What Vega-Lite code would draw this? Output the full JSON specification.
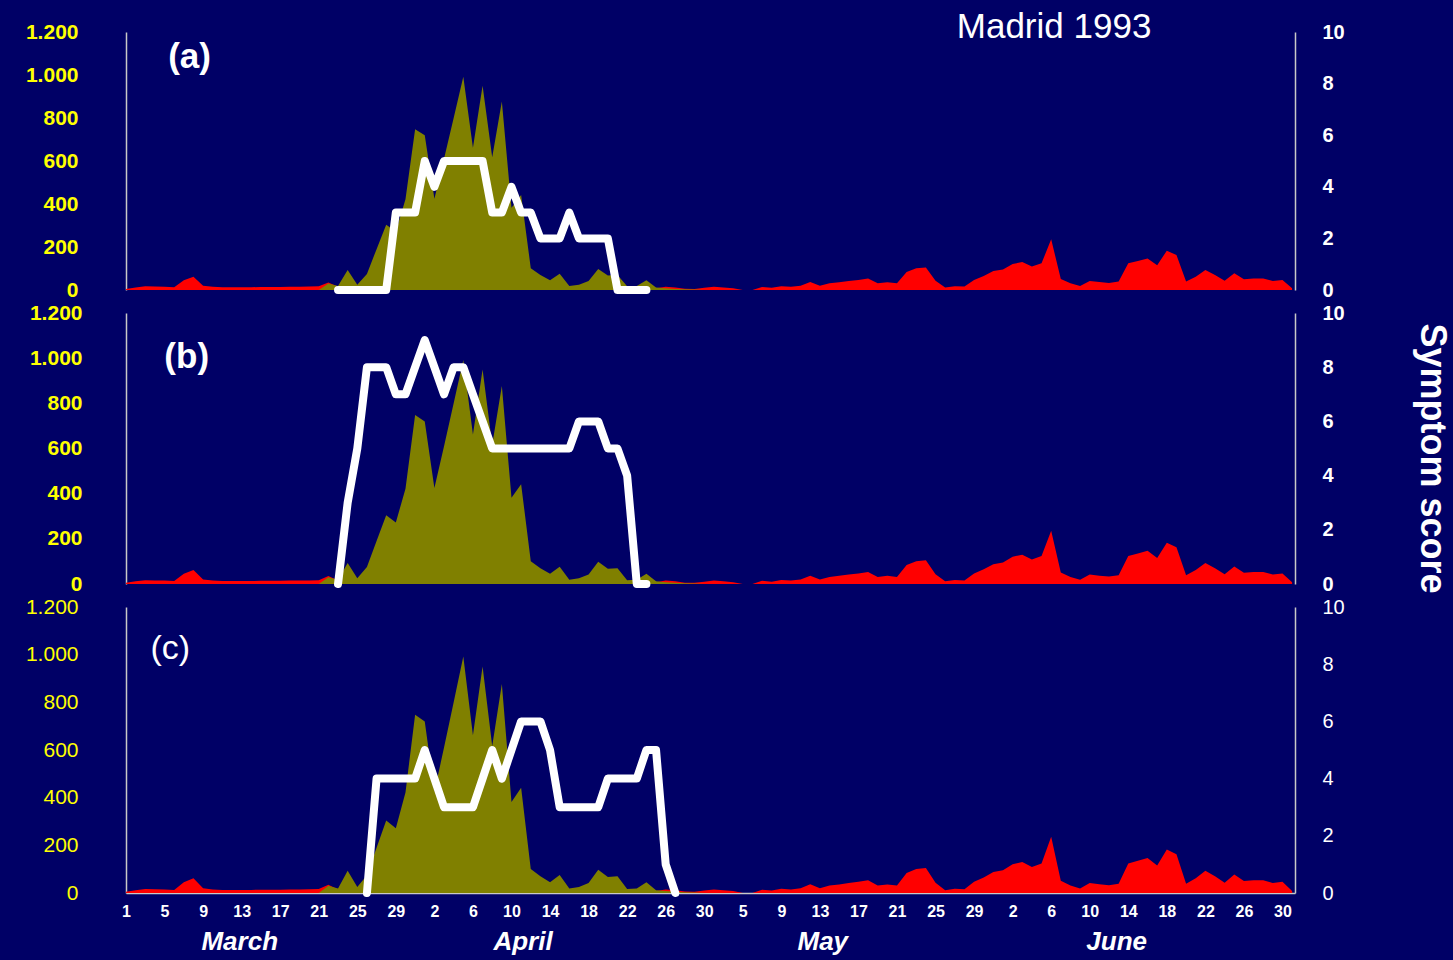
{
  "$schema": "https://vega.github.io/schema/vega-lite/v6.json",
  "background": "#000066",
  "padding": {"left": 25, "top": 10, "right": 5, "bottom": 5},
  "bounds": "flush",
  "spacing": 23,
  "config": {
    "view": {"stroke": null},
    "font": "Liberation Sans",
    "axis": {"grid": false, "ticks": false, "domainColor": "#C8C8C8", "domainWidth": 1.5, "labelFlush": false, "labelOverlap": false, "labelBound": false},
    "axisX": {"labelOverlap": false, "labelFlush": false, "labelBound": false}
  },
  "datasets": {
    "pollen": [
      {"day":0,"red":5,"olive":null},{"day":1,"red":12,"olive":null},{"day":2,"red":17,"olive":null},{"day":3,"red":16,"olive":null},
      {"day":4,"red":15,"olive":null},{"day":5,"red":13,"olive":null},{"day":6,"red":45,"olive":null},{"day":7,"red":62,"olive":null},
      {"day":8,"red":20,"olive":null},{"day":9,"red":15,"olive":null},{"day":10,"red":13,"olive":null},{"day":11,"red":13,"olive":null},
      {"day":12,"red":13,"olive":null},{"day":13,"red":13,"olive":null},{"day":14,"red":14,"olive":null},{"day":15,"red":14,"olive":null},
      {"day":16,"red":14,"olive":null},{"day":17,"red":15,"olive":null},{"day":18,"red":15,"olive":null},{"day":19,"red":16,"olive":null},
      {"day":20,"red":17,"olive":0},{"day":21,"red":35,"olive":30},{"day":22,"red":15,"olive":19},{"day":23,"red":8,"olive":93},
      {"day":24,"red":6,"olive":25},{"day":25,"red":5,"olive":75},{"day":26,"red":5,"olive":190},{"day":27,"red":5,"olive":304},
      {"day":28,"red":5,"olive":272},{"day":29,"red":5,"olive":422},{"day":30,"red":5,"olive":748},{"day":31,"red":5,"olive":720},
      {"day":32,"red":5,"olive":425},{"day":33,"red":5,"olive":610},{"day":34,"red":5,"olive":800},{"day":35,"red":5,"olive":992},
      {"day":36,"red":5,"olive":662},{"day":37,"red":5,"olive":950},{"day":38,"red":5,"olive":617},{"day":39,"red":5,"olive":877},
      {"day":40,"red":5,"olive":382},{"day":41,"red":5,"olive":442},{"day":42,"red":5,"olive":101},{"day":43,"red":5,"olive":70},
      {"day":44,"red":5,"olive":45},{"day":45,"red":5,"olive":76},{"day":46,"red":5,"olive":19},{"day":47,"red":5,"olive":25},
      {"day":48,"red":5,"olive":42},{"day":49,"red":5,"olive":98},{"day":50,"red":5,"olive":67},{"day":51,"red":5,"olive":70},
      {"day":52,"red":5,"olive":17},{"day":53,"red":6,"olive":19},{"day":54,"red":6,"olive":45},{"day":55,"red":8,"olive":12},
      {"day":56,"red":15,"olive":8},{"day":57,"red":12,"olive":5},{"day":58,"red":6,"olive":3},{"day":59,"red":5,"olive":2},
      {"day":60,"red":10,"olive":0},{"day":61,"red":15,"olive":null},{"day":62,"red":12,"olive":null},{"day":63,"red":8,"olive":null},
      {"day":64,"red":0,"olive":null},{"day":65,"red":0,"olive":null},{"day":66,"red":14,"olive":null},{"day":67,"red":10,"olive":null},
      {"day":68,"red":18,"olive":null},{"day":69,"red":15,"olive":null},{"day":70,"red":20,"olive":null},{"day":71,"red":37,"olive":null},
      {"day":72,"red":20,"olive":null},{"day":73,"red":31,"olive":null},{"day":74,"red":36,"olive":null},{"day":75,"red":42,"olive":null},
      {"day":76,"red":47,"olive":null},{"day":77,"red":53,"olive":null},{"day":78,"red":31,"olive":null},{"day":79,"red":36,"olive":null},
      {"day":80,"red":31,"olive":null},{"day":81,"red":84,"olive":null},{"day":82,"red":101,"olive":null},{"day":83,"red":105,"olive":null},
      {"day":84,"red":43,"olive":null},{"day":85,"red":12,"olive":null},{"day":86,"red":18,"olive":null},{"day":87,"red":16,"olive":null},
      {"day":88,"red":47,"olive":null},{"day":89,"red":65,"olive":null},{"day":90,"red":88,"olive":null},{"day":91,"red":95,"olive":null},
      {"day":92,"red":121,"olive":null},{"day":93,"red":130,"olive":null},{"day":94,"red":109,"olive":null},{"day":95,"red":124,"olive":null},
      {"day":96,"red":236,"olive":null},{"day":97,"red":51,"olive":null},{"day":98,"red":31,"olive":null},{"day":99,"red":19,"olive":null},
      {"day":100,"red":42,"olive":null},{"day":101,"red":37,"olive":null},{"day":102,"red":33,"olive":null},{"day":103,"red":39,"olive":null},
      {"day":104,"red":124,"olive":null},{"day":105,"red":135,"olive":null},{"day":106,"red":147,"olive":null},{"day":107,"red":115,"olive":null},
      {"day":108,"red":183,"olive":null},{"day":109,"red":163,"olive":null},{"day":110,"red":39,"olive":null},{"day":111,"red":62,"olive":null},
      {"day":112,"red":93,"olive":null},{"day":113,"red":70,"olive":null},{"day":114,"red":43,"olive":null},{"day":115,"red":78,"olive":null},
      {"day":116,"red":50,"olive":null},{"day":117,"red":53,"olive":null},{"day":118,"red":53,"olive":null},{"day":119,"red":42,"olive":null},
      {"day":120,"red":47,"olive":null},{"day":121,"red":8,"olive":null}
    ],
    "scores": [
      {"panel":"a","day":22,"score":0},{"panel":"a","day":23,"score":0},{"panel":"a","day":24,"score":0},{"panel":"a","day":25,"score":0},
      {"panel":"a","day":26,"score":0},{"panel":"a","day":27,"score":0},{"panel":"a","day":28,"score":3},{"panel":"a","day":29,"score":3},
      {"panel":"a","day":30,"score":3},{"panel":"a","day":31,"score":5},{"panel":"a","day":32,"score":4},{"panel":"a","day":33,"score":5},
      {"panel":"a","day":34,"score":5},{"panel":"a","day":35,"score":5},{"panel":"a","day":36,"score":5},{"panel":"a","day":37,"score":5},
      {"panel":"a","day":38,"score":3},{"panel":"a","day":39,"score":3},{"panel":"a","day":40,"score":4},{"panel":"a","day":41,"score":3},
      {"panel":"a","day":42,"score":3},{"panel":"a","day":43,"score":2},{"panel":"a","day":44,"score":2},{"panel":"a","day":45,"score":2},
      {"panel":"a","day":46,"score":3},{"panel":"a","day":47,"score":2},{"panel":"a","day":48,"score":2},{"panel":"a","day":49,"score":2},
      {"panel":"a","day":50,"score":2},{"panel":"a","day":51,"score":0},{"panel":"a","day":52,"score":0},{"panel":"a","day":53,"score":0},
      {"panel":"a","day":54,"score":0},
      {"panel":"b","day":22,"score":0},{"panel":"b","day":23,"score":3},{"panel":"b","day":24,"score":5},{"panel":"b","day":25,"score":8},
      {"panel":"b","day":26,"score":8},{"panel":"b","day":27,"score":8},{"panel":"b","day":28,"score":7},{"panel":"b","day":29,"score":7},
      {"panel":"b","day":30,"score":8},{"panel":"b","day":31,"score":9},{"panel":"b","day":32,"score":8},{"panel":"b","day":33,"score":7},
      {"panel":"b","day":34,"score":8},{"panel":"b","day":35,"score":8},{"panel":"b","day":36,"score":7},{"panel":"b","day":37,"score":6},
      {"panel":"b","day":38,"score":5},{"panel":"b","day":39,"score":5},{"panel":"b","day":40,"score":5},{"panel":"b","day":41,"score":5},
      {"panel":"b","day":42,"score":5},{"panel":"b","day":43,"score":5},{"panel":"b","day":44,"score":5},{"panel":"b","day":45,"score":5},
      {"panel":"b","day":46,"score":5},{"panel":"b","day":47,"score":6},{"panel":"b","day":48,"score":6},{"panel":"b","day":49,"score":6},
      {"panel":"b","day":50,"score":5},{"panel":"b","day":51,"score":5},{"panel":"b","day":52,"score":4},{"panel":"b","day":53,"score":0},
      {"panel":"b","day":54,"score":0},
      {"panel":"c","day":25,"score":0},{"panel":"c","day":26,"score":4},{"panel":"c","day":27,"score":4},{"panel":"c","day":28,"score":4},
      {"panel":"c","day":29,"score":4},{"panel":"c","day":30,"score":4},{"panel":"c","day":31,"score":5},{"panel":"c","day":32,"score":4},
      {"panel":"c","day":33,"score":3},{"panel":"c","day":34,"score":3},{"panel":"c","day":35,"score":3},{"panel":"c","day":36,"score":3},
      {"panel":"c","day":37,"score":4},{"panel":"c","day":38,"score":5},{"panel":"c","day":39,"score":4},{"panel":"c","day":40,"score":5},
      {"panel":"c","day":41,"score":6},{"panel":"c","day":42,"score":6},{"panel":"c","day":43,"score":6},{"panel":"c","day":44,"score":5},
      {"panel":"c","day":45,"score":3},{"panel":"c","day":46,"score":3},{"panel":"c","day":47,"score":3},{"panel":"c","day":48,"score":3},
      {"panel":"c","day":49,"score":3},{"panel":"c","day":50,"score":4},{"panel":"c","day":51,"score":4},{"panel":"c","day":52,"score":4},
      {"panel":"c","day":53,"score":4},{"panel":"c","day":54,"score":5},{"panel":"c","day":55,"score":5},{"panel":"c","day":56,"score":1},
      {"panel":"c","day":57,"score":0}
    ],
    "months": [
      {"month":"March","day":11.8},{"month":"April","day":41.2},{"month":"May","day":72.3},{"month":"June","day":102.8}
    ]
  },
  "vconcat": [
    {
      "width": 1169, "height": 258,
      "layer": [
        {"data": {"name": "pollen"}, "mark": {"type": "area", "color": "#FF0000"},
         "encoding": {"x": {"field": "day", "type": "quantitative", "scale": {"domain": [0, 121.3], "nice": false}, "axis": null},
                      "y": {"field": "red", "type": "quantitative", "scale": {"domain": [0, 1200], "nice": false},
                            "axis": {"orient": "left", "values": [0,200,400,600,800,1000,1200], "labelExpr": "replace(format(datum.value, ','), ',', '.')", "labelColor": "#FFFF00", "labelFontSize": 21, "labelFontWeight": "bold", "labelPadding": 48, "title": null}}}},
        {"data": {"name": "pollen"}, "transform": [{"filter": "datum.olive != null"}], "mark": {"type": "area", "color": "#808000"},
         "encoding": {"x": {"field": "day", "type": "quantitative", "scale": {"domain": [0, 121.3], "nice": false}, "axis": null},
                      "y": {"field": "olive", "type": "quantitative", "scale": {"domain": [0, 1200], "nice": false}, "axis": null}}},
        {"data": {"name": "scores"}, "transform": [{"filter": "datum.panel == 'a'"}],
         "mark": {"type": "line", "color": "#FFFFFF", "strokeWidth": 8, "strokeCap": "round", "strokeJoin": "round"},
         "encoding": {"x": {"field": "day", "type": "quantitative", "scale": {"domain": [0, 121.3], "nice": false}, "axis": null},
                      "y": {"field": "score", "type": "quantitative", "scale": {"domain": [0, 10], "nice": false},
                            "axis": {"orient": "right", "values": [0,2,4,6,8,10], "labelColor": "#FFFFFF", "labelFontSize": 20, "labelFontWeight": "bold", "labelPadding": 27, "title": null}}}},
        {"data": {"values": [{"label": "(a)"}]}, "mark": {"type": "text", "color": "#FFFFFF", "fontSize": 35, "fontWeight": "bold", "baseline": "middle"},
         "encoding": {"x": {"datum": 6.6, "type": "quantitative", "scale": {"domain": [0, 121.3], "nice": false}, "axis": null},
                      "y": {"datum": 1084, "type": "quantitative", "scale": {"domain": [0, 1200], "nice": false}, "axis": null},
                      "text": {"field": "label"}}},
        {"data": {"values": [{"label": "Madrid 1993"}]}, "mark": {"type": "text", "color": "#FFFFFF", "fontSize": 35, "baseline": "middle"},
         "encoding": {"x": {"datum": 96.3, "type": "quantitative", "scale": {"domain": [0, 121.3], "nice": false}, "axis": null},
                      "y": {"datum": 1223, "type": "quantitative", "scale": {"domain": [0, 1200], "nice": false}, "axis": null},
                      "text": {"field": "label"}}}
      ],
      "resolve": {"scale": {"y": "independent"}, "axis": {"y": "independent"}}
    },
    {
      "width": 1169, "height": 271,
      "layer": [
        {"data": {"name": "pollen"}, "mark": {"type": "area", "color": "#FF0000"},
         "encoding": {"x": {"field": "day", "type": "quantitative", "scale": {"domain": [0, 121.3], "nice": false}, "axis": null},
                      "y": {"field": "red", "type": "quantitative", "scale": {"domain": [0, 1200], "nice": false},
                            "axis": {"orient": "left", "values": [0,200,400,600,800,1000,1200], "labelExpr": "replace(format(datum.value, ','), ',', '.')", "labelColor": "#FFFF00", "labelFontSize": 21, "labelFontWeight": "bold", "labelPadding": 44, "title": null}}}},
        {"data": {"name": "pollen"}, "transform": [{"filter": "datum.olive != null"}], "mark": {"type": "area", "color": "#808000"},
         "encoding": {"x": {"field": "day", "type": "quantitative", "scale": {"domain": [0, 121.3], "nice": false}, "axis": null},
                      "y": {"field": "olive", "type": "quantitative", "scale": {"domain": [0, 1200], "nice": false}, "axis": null}}},
        {"data": {"name": "scores"}, "transform": [{"filter": "datum.panel == 'b'"}],
         "mark": {"type": "line", "color": "#FFFFFF", "strokeWidth": 8, "strokeCap": "round", "strokeJoin": "round"},
         "encoding": {"x": {"field": "day", "type": "quantitative", "scale": {"domain": [0, 121.3], "nice": false}, "axis": null},
                      "y": {"field": "score", "type": "quantitative", "scale": {"domain": [0, 10], "nice": false},
                            "axis": {"orient": "right", "values": [0,2,4,6,8,10], "labelColor": "#FFFFFF", "labelFontSize": 20, "labelFontWeight": "bold", "labelPadding": 27,
                                     "title": "Symptom score", "titleColor": "#FFFFFF", "titleFontSize": 36, "titleFontWeight": "bold", "titlePadding": 68, "titleY": 145}}}},
        {"data": {"values": [{"label": "(b)"}]}, "mark": {"type": "text", "color": "#FFFFFF", "fontSize": 35, "fontWeight": "bold", "baseline": "middle"},
         "encoding": {"x": {"datum": 6.3, "type": "quantitative", "scale": {"domain": [0, 121.3], "nice": false}, "axis": null},
                      "y": {"datum": 1004, "type": "quantitative", "scale": {"domain": [0, 1200], "nice": false}, "axis": null},
                      "text": {"field": "label"}}}
      ],
      "resolve": {"scale": {"y": "independent"}, "axis": {"y": "independent"}}
    },
    {
      "width": 1169, "height": 286,
      "encoding": {
        "x": {"field": "day", "type": "quantitative", "scale": {"domain": [0, 121.3], "nice": false},
              "axis": {"values": [0,4,8,12,16,20,24,28,32,36,40,44,48,52,56,60,64,68,72,76,80,84,88,92,96,100,104,108,112,116,120],
                       "labelExpr": "['1','5','9','13','17','21','25','29','2','6','10','14','18','22','26','30','5','9','13','17','21','25','29','2','6','10','14','18','22','26','30'][round(datum.value/4)]",
                       "labelColor": "#FFFFFF", "labelFontSize": 16, "labelFontWeight": "bold", "labelPadding": 10, "labelOverlap": false, "labelBound": false, "labelFlush": false, "labelSeparation": 0, "title": null}}
      },
      "layer": [
        {"data": {"name": "pollen"}, "mark": {"type": "area", "color": "#FF0000"},
         "encoding": {"y": {"field": "red", "type": "quantitative", "scale": {"domain": [0, 1200], "nice": false},
                            "axis": {"orient": "left", "values": [0,200,400,600,800,1000,1200], "labelExpr": "replace(format(datum.value, ','), ',', '.')", "labelColor": "#FFFF00", "labelFontSize": 21, "labelPadding": 48, "title": null}}}},
        {"data": {"name": "pollen"}, "transform": [{"filter": "datum.olive != null"}], "mark": {"type": "area", "color": "#808000"},
         "encoding": {"y": {"field": "olive", "type": "quantitative", "scale": {"domain": [0, 1200], "nice": false}, "axis": null}}},
        {"data": {"name": "scores"}, "transform": [{"filter": "datum.panel == 'c'"}],
         "mark": {"type": "line", "color": "#FFFFFF", "strokeWidth": 8, "strokeCap": "round", "strokeJoin": "round"},
         "encoding": {"y": {"field": "score", "type": "quantitative", "scale": {"domain": [0, 10], "nice": false},
                            "axis": {"orient": "right", "values": [0,2,4,6,8,10], "labelColor": "#FFFFFF", "labelFontSize": 20, "labelPadding": 27, "title": null}}}},
        {"data": {"values": [{"label": "(c)", "day": 4.6}]}, "mark": {"type": "text", "color": "#FFFFFF", "fontSize": 34, "baseline": "middle"},
         "encoding": {"y": {"datum": 1023, "type": "quantitative", "scale": {"domain": [0, 1200], "nice": false}, "axis": null},
                      "text": {"field": "label"}}},
        {"data": {"name": "months"}, "mark": {"type": "text", "color": "#FFFFFF", "fontSize": 26, "fontWeight": "bold", "fontStyle": "italic", "baseline": "middle"},
         "encoding": {"y": {"datum": -206, "type": "quantitative", "scale": {"domain": [0, 1200], "nice": false}, "axis": null},
                      "text": {"field": "month"}}}
      ],
      "resolve": {"scale": {"y": "independent"}, "axis": {"y": "independent"}}
    }
  ]
}
